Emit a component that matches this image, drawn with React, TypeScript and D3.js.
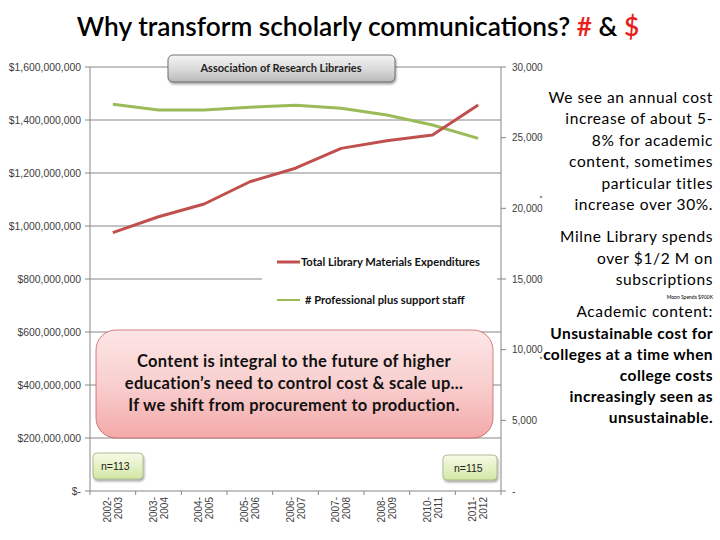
import React from "react";
import * as d3 from "d3";

const categories = [
  "2002-2003", "2003-2004", "2004-2005", "2005-2006", "2006-2007",
  "2007-2008", "2008-2009", "2010-2011", "2011-2012",
];
const expenditures = [
  975e6, 1035e6, 1083e6, 1167e6, 1218e6, 1293e6, 1322e6, 1343e6, 1457e6,
];
const staff = [27360, 26960, 26960, 27150, 27290, 27080, 26600, 25900, 24950];
const leftTicks = [0, 2e8, 4e8, 6e8, 8e8, 1e9, 1.2e9, 1.4e9, 1.6e9];
const rightTicks = [0, 5000, 10000, 15000, 20000, 25000, 30000];

const rightText1 = [
  "We see an annual cost",
  "increase of about 5-",
  "8%  for academic",
  "content, sometimes",
  "particular titles",
  "increase over 30%.",
];
const rightText2 = ["Milne Library spends", "over $1/2 M on", "subscriptions"];
const rightText3 = [
  "Unsustainable cost for",
  "colleges at a time when",
  "college costs",
  "increasingly seen as",
  "unsustainable.",
];
const boxText = [
  "Content is integral to the future of higher",
  "education\u2019s need to control cost & scale up...",
  "If we shift from procurement to production.",
];

const FONT = "Lato, 'Open Sans', sans-serif";
const AX = "'Liberation Sans', Arial, sans-serif";

export default function App() {
  const L = 90, R = 501, T = 67, B = 491;
  const x = d3.scaleBand<string>().domain(categories).range([L, R]);
  const yL = d3.scaleLinear().domain([0, 1.6e9]).range([B, T]);
  const yR = d3.scaleLinear().domain([0, 30000]).range([B, T]);
  const fmtL = (v: number) => (v === 0 ? "$-" : "$" + d3.format(",")(v));
  const fmtR = (v: number) => (v === 0 ? "-" : d3.format(",")(v));
  const cx = (c: string) => (x(c) as number) + x.bandwidth() / 2;

  const redLine = d3
    .line<number>()
    .x((_, i) => cx(categories[i]))
    .y((d) => yL(d))(expenditures) as string;
  const greenLine = d3
    .line<number>()
    .x((_, i) => cx(categories[i]))
    .y((d) => yR(d))(staff) as string;

  const bounds = [...categories.map((c) => x(c) as number), R];

  return (
    <svg
      width={720}
      height={540}
      style={{ position: "absolute", left: 0, top: 0, background: "#fff" }}
    >
      <defs>
        <linearGradient id="gray" x1="0" y1="0" x2="0" y2="1">
          <stop offset="0" stopColor="#f4f4f4" />
          <stop offset="0.5" stopColor="#dcdcdc" />
          <stop offset="1" stopColor="#b8b8b8" />
        </linearGradient>
        <linearGradient id="pink" x1="0" y1="0" x2="0" y2="1">
          <stop offset="0" stopColor="#fde6e6" />
          <stop offset="0.5" stopColor="#f9cfcf" />
          <stop offset="1" stopColor="#f3a9a9" />
        </linearGradient>
        <linearGradient id="green" x1="0" y1="0" x2="0" y2="1">
          <stop offset="0" stopColor="#f6fbe8" />
          <stop offset="1" stopColor="#d3e7a4" />
        </linearGradient>
        <filter id="sh" x="-10%" y="-20%" width="120%" height="160%">
          <feDropShadow dx="1" dy="2" stdDeviation="1.2" floodColor="#000" floodOpacity="0.35" />
        </filter>
      </defs>

      {/* Title */}
      <text x={358} y={36} textAnchor="middle" fontFamily={FONT} fontSize={26.3} fontWeight={600} fill="#000">
        Why transform scholarly communications? <tspan fill="#e8201c">#</tspan> &amp;{" "}
        <tspan fill="#e8201c">$</tspan>
      </text>

      {/* Gridlines */}
      {leftTicks.slice(1).map((v) => (
        <line key={"g" + v} x1={L} x2={R} y1={yL(v)} y2={yL(v)} stroke="#868686" strokeWidth={1} />
      ))}

      {/* Left axis */}
      <line x1={L} x2={L} y1={T} y2={B} stroke="#868686" />
      {leftTicks.map((v) => (
        <g key={"l" + v}>
          <line x1={L - 5} x2={L} y1={yL(v)} y2={yL(v)} stroke="#868686" />
          <text x={81} y={yL(v) + 3.5} textAnchor="end" fontFamily={AX} fontSize={10.4} fill="#404040">
            {fmtL(v)}
          </text>
        </g>
      ))}

      {/* Right axis */}
      <line x1={R} x2={R} y1={T} y2={B} stroke="#868686" />
      {rightTicks.map((v) => (
        <g key={"r" + v}>
          <line x1={R} x2={R + 5} y1={yR(v)} y2={yR(v)} stroke="#868686" />
          <text x={512} y={yR(v) + 3.5} textAnchor="start" fontFamily={AX} fontSize={10} fill="#404040">
            {fmtR(v)}
          </text>
        </g>
      ))}

      {/* Bottom axis */}
      <line x1={L} x2={R} y1={B} y2={B} stroke="#868686" />
      {bounds.map((b, i) => (
        <line key={"b" + i} x1={b} x2={b} y1={B} y2={B + 4} stroke="#868686" />
      ))}
      {categories.map((c) => {
        const [a, b] = c.split("-");
        const px = cx(c);
        return (
          <text
            key={c}
            transform={`translate(${px},${497}) rotate(-90)`}
            textAnchor="end"
            fontFamily={AX}
            fontSize={10}
            fill="#404040"
          >
            <tspan x={0} y={-2}>{a + "-"}</tspan>
            <tspan x={0} y={9}>{b}</tspan>
          </text>
        );
      })}

      {/* Lines */}
      <path d={greenLine} fill="none" stroke="#9bbb59" strokeWidth={3} strokeLinejoin="round" />
      <path d={redLine} fill="none" stroke="#c0504d" strokeWidth={3} strokeLinejoin="round" />

      {/* Chart title box */}
      <rect x={168} y={55} width={227} height={27} rx={5} fill="url(#gray)" stroke="#555" strokeWidth={0.8} filter="url(#sh)" />
      <text x={281} y={72} textAnchor="middle" fontFamily={FONT} fontSize={11} fontWeight={700} fill="#222">
        Association of Research Libraries
      </text>

      {/* Legend */}
      <rect x={262} y={246} width={235} height={68} fill="#fff" />
      <line x1={277} x2={300} y1={262} y2={262} stroke="#c0504d" strokeWidth={3} />
      <text x={301} y={266} fontFamily={FONT} fontSize={11.2} fontWeight={700} fill="#111">
        Total Library Materials Expenditures
      </text>
      <line x1={277} x2={300} y1={300} y2={300} stroke="#9bbb59" strokeWidth={2} />
      <text x={305} y={304} fontFamily={FONT} fontSize={11.2} fontWeight={700} fill="#111">
        # Professional plus support staff
      </text>

      {/* Pink callout */}
      <rect x={96} y={330} width={397} height={108} rx={20} fill="url(#pink)" stroke="#c0504d" strokeOpacity={0.7} strokeWidth={1} />
      {boxText.map((t, i) => (
        <text key={i} x={294} y={367 + i * 22} textAnchor="middle" fontFamily={FONT} fontSize={16.5} fontWeight={700} fill="#111" letterSpacing={0.3}>
          {t}
        </text>
      ))}

      {/* n boxes */}
      <rect x={93} y={453} width={50} height={26} rx={4} fill="url(#green)" stroke="#a0b080" strokeWidth={0.8} filter="url(#sh)" />
      <text x={101} y={470} fontFamily={AX} fontSize={10.5} fill="#222">n=113</text>
      <rect x={443} y={455} width={54} height={25} rx={4} fill="url(#green)" stroke="#a0b080" strokeWidth={0.8} filter="url(#sh)" />
      <text x={454} y={472} fontFamily={AX} fontSize={10.5} fill="#222">n=115</text>

      {/* Right text */}
      {rightText1.map((t, i) => (
        <text key={"a" + i} x={713} y={103 + i * 21.4} textAnchor="end" fontFamily={FONT} fontSize={15.5} fill="#000" letterSpacing={0.6}>
          {t}
        </text>
      ))}
      {rightText2.map((t, i) => (
        <text key={"b" + i} x={713} y={242 + i * 21.5} textAnchor="end" fontFamily={FONT} fontSize={15.5} fill="#000" letterSpacing={0.6}>
          {t}
        </text>
      ))}
      <text x={713} y={299} textAnchor="end" fontFamily={FONT} fontSize={5} fill="#000">
        Moon Spends $900K
      </text>
      <text x={713} y={317} textAnchor="end" fontFamily={FONT} fontSize={15.5} fill="#000" letterSpacing={0.6}>
        Academic content:
      </text>
      {rightText3.map((t, i) => (
        <text key={"c" + i} x={713} y={339 + i * 21} textAnchor="end" fontFamily={FONT} fontSize={15.5} fontWeight={700} fill="#000" letterSpacing={0.4}>
          {t}
        </text>
      ))}
      {[137, 197, 278, 358].map((yy) => (
        <circle key={yy} cx={541} cy={yy} r={1.3} fill="#999" />
      ))}
    </svg>
  );
}
